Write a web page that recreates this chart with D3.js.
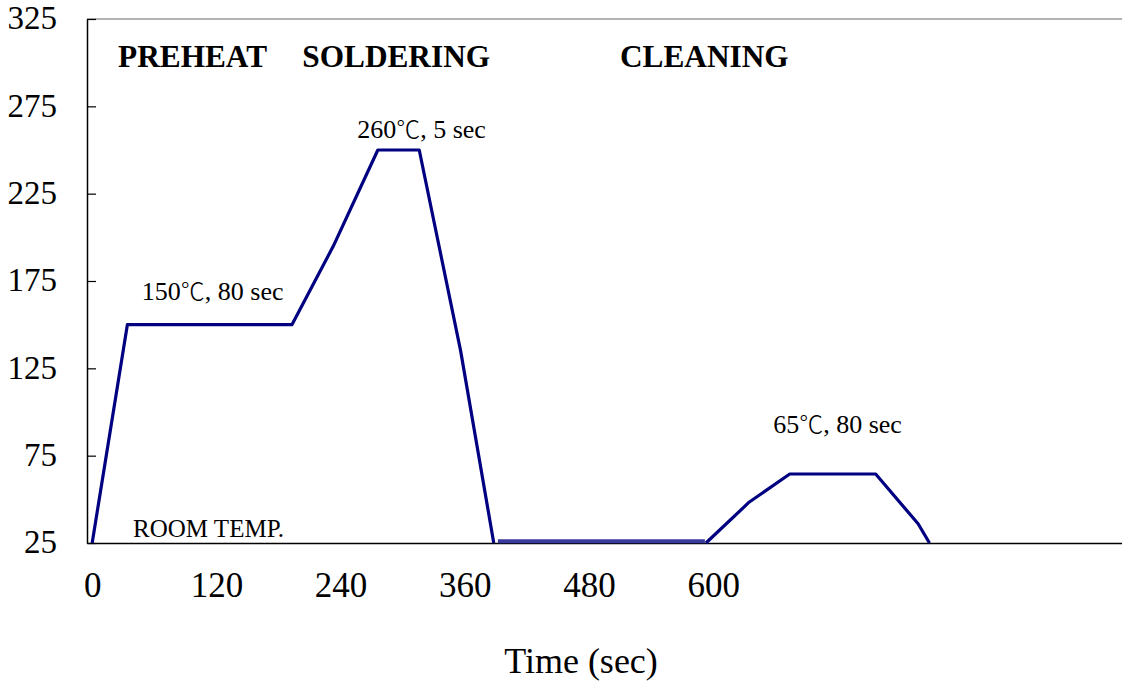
<!DOCTYPE html>
<html>
<head>
<meta charset="utf-8">
<script src="https://cdn.jsdelivr.net/npm/d3@7"></script>
<style>
    body { margin: 0; background: #fff; }
    svg text { font-family: "Liberation Serif", "Times New Roman", "Noto Sans CJK JP", serif; fill: #000; }
</style>
</head>
<body>
<div id="chart"></div>
<script>
// reflow profile (time in sec, temperature in degC)
const profileTime = [0, 34, 193, 233, 276, 316, 356, 388]
const profileTemp = [25, 150, 150, 195, 250, 250, 135, 25]

const roomTime = [392, 592]
const roomTemp = [26, 26]

const cleanTime = [593, 635, 674, 757, 798, 809]
const cleanTemp = [25, 48.5, 64.5, 64.5, 36, 25]

const yTicks = [25, 75, 125, 175, 225, 275, 325]
const xTicks = [0, 120, 240, 360, 480, 600]

const phaseNames = ["PREHEAT", "SOLDERING", "CLEANING"]
const phaseTime = [25, 203, 510]
const phaseTemp = [297.5, 297.5, 297.5]

// [value, unit, rest]
const noteParts = [["150", "℃", ", 80 sec"], ["260", "℃", ", 5 sec"], ["65", "℃", ", 80 sec"]]
const noteTime = [48, 256, 658]
const noteTemp = [164, 257, 88]

const roomLabel = "ROOM TEMP."
const roomLabelTime = 39.5
const roomLabelTemp = 28.4

function zip(xs, ys) {
    return xs.map(function (d, i) { return { t: d, v: ys[i] } })
}

function drawChart(containerSelector) {
    const W = 1122, H = 682
    const margin = { top: 19, right: 0, bottom: 139, left: 87 }
    const width = W - margin.left - margin.right
    const height = H - margin.top - margin.bottom

    const svg = d3.select(containerSelector).append("svg")
        .attr("width", W)
        .attr("height", H)
        .append("g")
        .attr("transform", "translate(" + margin.left + "," + margin.top + ")")

    const x = d3.scaleLinear().domain([-5, 995]).range([0, width])
    const y = d3.scaleLinear().domain([25, 325]).range([height, 0])

    // top frame line
    svg.append("line")
        .attr("x1", 0).attr("x2", width)
        .attr("y1", 0).attr("y2", 0)
        .attr("stroke", "#666").attr("stroke-width", 1.2)

    const yAxis = svg.append("g")
        .call(d3.axisLeft(y).tickValues(yTicks).tickSize(-9).tickSizeOuter(0).tickPadding(30))
    yAxis.select(".domain").attr("stroke", "#000").attr("stroke-width", 1.5)
    yAxis.selectAll(".tick line").attr("stroke", "#000").attr("stroke-width", 1.2)
    yAxis.selectAll("text")
        .attr("font-size", 33)
        .attr("dy", "0.30em")

    const xAxis = svg.append("g")
        .attr("transform", "translate(0," + height + ")")
        .call(d3.axisBottom(x).tickValues(xTicks).tickSize(0).tickSizeOuter(0).tickPadding(29))
    xAxis.select(".domain").attr("stroke", "#000").attr("stroke-width", 1.5)
    xAxis.selectAll("text").attr("font-size", 35)

    const line = d3.line()
        .x(function (d) { return x(d.t) })
        .y(function (d) { return y(d.v) })

    svg.append("path")
        .datum(zip(profileTime, profileTemp))
        .attr("d", line)
        .attr("fill", "none")
        .attr("stroke", "#000080")
        .attr("stroke-width", 3.2)
        .attr("stroke-linejoin", "round")

    svg.append("path")
        .datum(zip(roomTime, roomTemp))
        .attr("d", line)
        .attr("fill", "none")
        .attr("stroke", "#3a3a9c")
        .attr("stroke-width", 4)

    svg.append("path")
        .datum(zip(cleanTime, cleanTemp))
        .attr("d", line)
        .attr("fill", "none")
        .attr("stroke", "#000080")
        .attr("stroke-width", 3.2)
        .attr("stroke-linejoin", "round")

    svg.append("g")
        .selectAll("text")
        .data(phaseNames)
        .enter().append("text")
        .attr("x", function (d, i) { return x(phaseTime[i]) })
        .attr("y", function (d, i) { return y(phaseTemp[i]) })
        .attr("font-size", 31.3)
        .attr("font-weight", "bold")
        .text(function (d) { return d })

    const notes = svg.append("g")
        .selectAll("text")
        .data(noteParts)
        .enter().append("text")
        .attr("x", function (d, i) { return x(noteTime[i]) })
        .attr("y", function (d, i) { return y(noteTemp[i]) })
        .attr("font-size", 26)

    notes.append("tspan").text(function (d) { return d[0] })
    notes.append("tspan")
        .style("font-family", '"Noto Sans CJK JP", sans-serif')
        .attr("font-size", 24)
        .attr("font-weight", 300)
        .text(function (d) { return d[1] })
    notes.append("tspan").text(function (d) { return d[2] })

    svg.append("text")
        .attr("x", x(roomLabelTime))
        .attr("y", y(roomLabelTemp))
        .attr("font-size", 25)
        .text(roomLabel)

    svg.append("text")
        .attr("x", 581 - margin.left)
        .attr("y", 673 - margin.top)
        .attr("text-anchor", "middle")
        .attr("font-size", 36)
        .text("Time (sec)")
}

drawChart("#chart")
</script>
</body>
</html>
